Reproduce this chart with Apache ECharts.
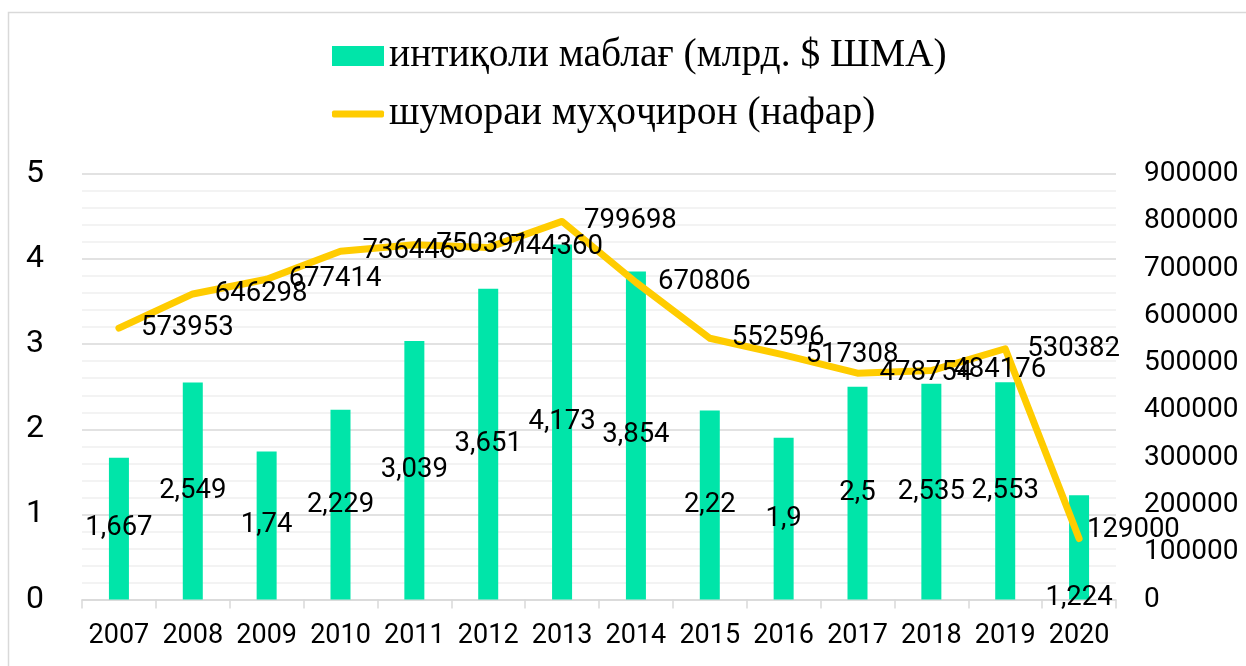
<!DOCTYPE html>
<html>
<head>
<meta charset="utf-8">
<script src="https://cdn.jsdelivr.net/npm/echarts@6/dist/echarts.min.js"></script>
<style>
  html, body { margin: 0; padding: 0; background: #fff; }
  #chart { width: 1246px; height: 666px; }
</style>
</head>
<body>
<div id="chart"></div>
<script>
// Remittances (billion USD) and number of labour migrants, 2007–2020
const years = ['2007', '2008', '2009', '2010', '2011', '2012', '2013', '2014', '2015', '2016', '2017', '2018', '2019', '2020'];
const remittances = [1.667, 2.549, 1.74, 2.229, 3.039, 3.651, 4.173, 3.854, 2.22, 1.9, 2.5, 2.535, 2.553, 1.224];
const migrants = [573953, 646298, 677414, 736446, 750391, 744360, 799698, 670806, 552596, 517308, 478754, 484176, 530382, 129000];
const barName = 'интиқоли маблағ (млрд. $ ШМА)';
const lineName = 'шумораи муҳоҷирон (нафар)';

const sansFont = 'Roboto';
const serifFont = 'Liberation Serif';

const barData = remittances.map((v, i) => {
  if (i === remittances.length - 1) {
    return { value: v, label: { position: 'insideBottom', offset: [0, 18] } };
  }
  return v;
});
const lineData = migrants.map((v, i) => {
  if (i === migrants.length - 1) {
    return { value: v, label: { distance: 7, offset: [0, -8] } };
  }
  return v;
});

const chart = echarts.init(document.getElementById('chart'), null, { renderer: 'canvas' });
chart.setOption({
  animation: false,
  backgroundColor: '#fff',
  graphic: [{
    type: 'rect',
    silent: true,
    z: -10,
    shape: { x: 8.5, y: 12.5, width: 1300, height: 700 },
    style: { fill: 'none', stroke: '#d9d9d9', lineWidth: 1.5 }
  }],
  legend: [{
    data: [barName],
    orient: 'vertical',
    left: 327,
    top: 31,
    itemWidth: 52,
    itemHeight: 20,
    icon: 'rect',
    textStyle: { fontFamily: serifFont, fontSize: 39.5, color: '#000', lineHeight: 40 }
  }, {
    data: [lineName],
    orient: 'vertical',
    left: 327,
    top: 89,
    itemWidth: 52,
    itemHeight: 7,
    icon: 'roundRect',
    textStyle: { fontFamily: serifFont, fontSize: 39.5, color: '#000', lineHeight: 40 }
  }],
  grid: { left: 82, right: 130, top: 174, bottom: 66.5, containLabel: false },
  xAxis: {
    type: 'category',
    data: years,
    boundaryGap: true,
    axisLine: { lineStyle: { color: '#d9d9d9', width: 1.5 } },
    axisTick: { show: true, length: 9, lineStyle: { color: '#d9d9d9', width: 1.5 } },
    axisLabel: { interval: 0, fontFamily: sansFont, fontSize: 27, color: '#000', margin: 24, lineHeight: 26 }
  },
  yAxis: [{
    type: 'value',
    min: 0,
    max: 5,
    interval: 1,
    axisLine: { show: false },
    axisTick: { show: false },
    axisLabel: { fontFamily: sansFont, fontSize: 32, color: '#000', margin: 38 },
    splitLine: { show: true, lineStyle: { color: '#d9d9d9', width: 1.5 } },
    minorTick: { show: false, splitNumber: 5 },
    minorSplitLine: { show: true, lineStyle: { color: '#f0f0f0', width: 1.5 } }
  }, {
    type: 'value',
    min: 0,
    max: 900000,
    interval: 100000,
    position: 'right',
    axisLine: { show: false },
    axisTick: { show: false },
    axisLabel: {
      fontFamily: sansFont, fontSize: 28, color: '#000', margin: 28, align: 'left',
      formatter: v => String(v)
    },
    splitLine: { show: false }
  }],
  series: [{
    name: barName,
    type: 'bar',
    data: barData,
    barWidth: 20,
    itemStyle: { color: '#00E5A9' },
    label: {
      show: true,
      position: 'inside',
      fontFamily: sansFont,
      fontSize: 27.5,
      color: '#000',
      formatter: p => String(p.value).replace('.', ',')
    },
    z: 2
  }, {
    name: lineName,
    type: 'line',
    yAxisIndex: 1,
    data: lineData,
    symbol: 'circle',
    symbolSize: 2,
    showSymbol: true,
    itemStyle: { color: '#FFCC00' },
    lineStyle: { color: '#FFCC00', width: 7, cap: 'round', join: 'round' },
    label: {
      show: true,
      position: 'right',
      distance: 21,
      fontFamily: sansFont,
      fontSize: 27.5,
      color: '#000'
    },
    z: 3
  }]
});
</script>
</body>
</html>
